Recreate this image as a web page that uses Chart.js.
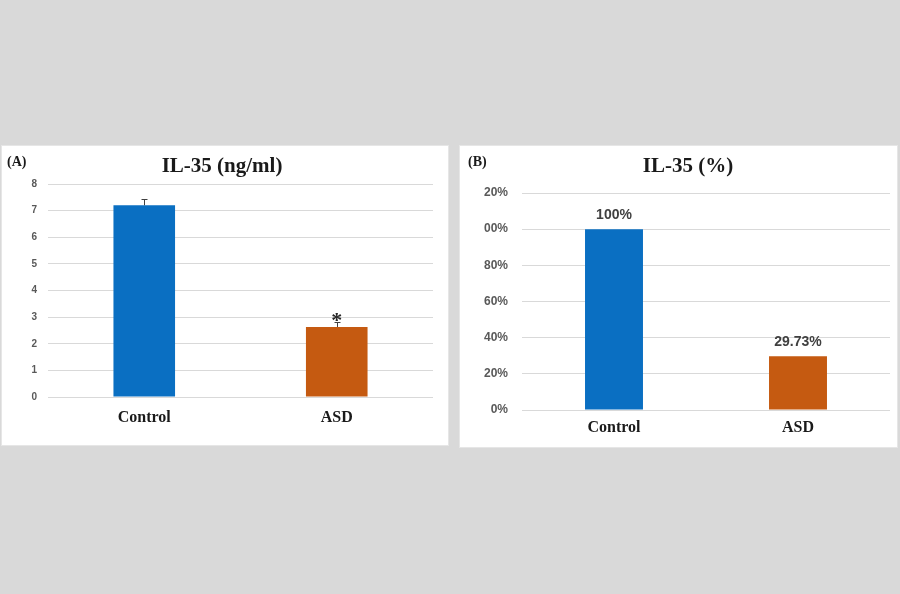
<!DOCTYPE html>
<html>
<head>
<meta charset="utf-8">
<script src="https://cdn.jsdelivr.net/npm/chart.js@4.4.0/dist/chart.umd.min.js"></script>
<style>
  html, body { margin: 0; padding: 0; background: #d9d9d9; width: 900px; height: 594px; overflow: hidden; }
  .panel { position: absolute; background: #fff; box-shadow: 0 0 0 1px #e6e6e6; }
  canvas { display: block; }
</style>
</head>
<body>
<div class="panel" style="left:2px;top:146px;width:446px;height:299px">
  <canvas id="chartA" width="446" height="299"></canvas>
</div>
<div class="panel" style="left:460px;top:146px;width:437px;height:301px">
  <canvas id="chartB" width="437" height="301"></canvas>
</div>
<script>
// data
const categories = ['Control', 'ASD'];
const concValues = [7.2, 2.63];      // IL-35 ng/ml
const concErrors = [0.22, 0.19];
const pctValues = [100, 29.73];      // IL-35 %
const pctTickLabels = ['0%', '20%', '40%', '60%', '80%', '00%', '20%'];
const barColors = ['#0a6fc2', '#c55a11'];

const titleA = 'IL-35 (ng/ml)';
const titleB = 'IL-35 (%)';

const serif = '"Liberation Serif", "Times New Roman", serif';
const sans = '"Liberation Sans", Arial, sans-serif';

// titles and panel letters
function headerPlugin(title, letter, titleX, letterX) {
  return {
    id: 'header',
    afterDraw(chart) {
      const ctx = chart.ctx;
      ctx.save();
      ctx.fillStyle = '#1a1a1a';
      ctx.textBaseline = 'middle';
      ctx.textAlign = 'center';
      ctx.font = 'bold 21px ' + serif;
      ctx.fillText(title, titleX, 21);
      ctx.textAlign = 'left';
      ctx.font = 'bold 14px ' + serif;
      ctx.fillText(letter, letterX, 16);
      ctx.restore();
    }
  };
}

// error bars + significance mark for panel A
const errorBarPlugin = {
  id: 'errorBars',
  afterDatasetsDraw(chart) {
    const ctx = chart.ctx;
    const y = chart.scales.y;
    const meta = chart.getDatasetMeta(0);
    ctx.save();
    ctx.strokeStyle = '#404040';
    ctx.lineWidth = 1;
    meta.data.forEach((bar, i) => {
      const x = Math.round(bar.x) + 0.5;
      const yTop = Math.round(y.getPixelForValue(concValues[i] + concErrors[i])) + 0.5;
      const yBase = y.getPixelForValue(concValues[i]);
      ctx.beginPath();
      ctx.moveTo(x, yBase);
      ctx.lineTo(x, yTop);
      ctx.moveTo(x - 3, yTop);
      ctx.lineTo(x + 3, yTop);
      ctx.stroke();
      if (i === 1) {
        ctx.fillStyle = '#262626';
        ctx.font = 'bold 22px ' + serif;
        ctx.textAlign = 'center';
        ctx.textBaseline = 'alphabetic';
        ctx.fillText('*', bar.x, yTop + 4);
      }
    });
    ctx.restore();
  }
};

// value labels for panel B
const valueLabelPlugin = {
  id: 'valueLabels',
  afterDatasetsDraw(chart) {
    const ctx = chart.ctx;
    const meta = chart.getDatasetMeta(0);
    ctx.save();
    ctx.fillStyle = '#404040';
    ctx.font = 'bold 14px ' + sans;
    ctx.textAlign = 'center';
    ctx.textBaseline = 'middle';
    meta.data.forEach((bar, i) => {
      ctx.fillText(pctValues[i] + '%', bar.x, bar.y - 14);
    });
    ctx.restore();
  }
};

new Chart(document.getElementById('chartA'), {
  type: 'bar',
  data: {
    labels: categories,
    datasets: [{
      data: concValues,
      backgroundColor: barColors,
      categoryPercentage: 1,
      barPercentage: 0.32
    }]
  },
  options: {
    responsive: false,
    animation: false,
    layout: { padding: { left: 0, right: 15, top: 38, bottom: 0 } },
    plugins: { legend: { display: false }, tooltip: { enabled: false } },
    scales: {
      x: {
        afterFit: s => { s.height = 48; },
        grid: { display: false },
        border: { display: false },
        ticks: { color: '#1a1a1a', padding: 3, font: { family: serif, size: 16, weight: 'bold' } }
      },
      y: {
        min: 0,
        max: 8,
        afterFit: s => { s.width = 46; },
        grid: { color: '#d9d9d9', drawTicks: false },
        border: { display: false },
        ticks: { stepSize: 1, color: '#595959', padding: 11, font: { family: sans, size: 10, weight: 'bold' } }
      }
    }
  },
  plugins: [errorBarPlugin, headerPlugin(titleA, '(A)', 220, 5)]
});

new Chart(document.getElementById('chartB'), {
  type: 'bar',
  data: {
    labels: categories,
    datasets: [{
      data: pctValues,
      backgroundColor: barColors,
      categoryPercentage: 1,
      barPercentage: 0.315
    }]
  },
  options: {
    responsive: false,
    animation: false,
    layout: { padding: { left: 0, right: 7, top: 47, bottom: 0 } },
    plugins: { legend: { display: false }, tooltip: { enabled: false } },
    scales: {
      x: {
        afterFit: s => { s.height = 37; },
        grid: { display: false },
        border: { display: false },
        ticks: { color: '#1a1a1a', padding: 0, font: { family: serif, size: 16, weight: 'bold' } }
      },
      y: {
        min: 0,
        max: 120,
        afterFit: s => { s.width = 62; },
        grid: { color: '#d9d9d9', drawTicks: false },
        border: { display: false },
        ticks: {
          stepSize: 20,
          color: '#595959',
          padding: 14,
          font: { family: sans, size: 12, weight: 'bold' },
          callback: (v, i) => pctTickLabels[i]
        }
      }
    }
  },
  plugins: [valueLabelPlugin, headerPlugin(titleB, '(B)', 228, 8)]
});
</script>
</body>
</html>
